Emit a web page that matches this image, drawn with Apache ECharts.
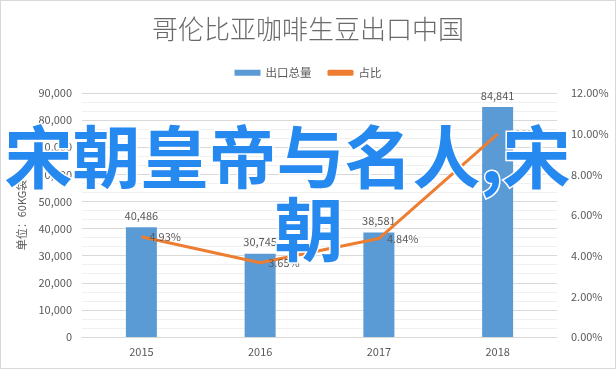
<!DOCTYPE html>
<html><head><meta charset="utf-8">
<script src="https://cdn.jsdelivr.net/npm/echarts@6/dist/echarts.min.js"></script>
<style>html,body{margin:0;padding:0;background:#fff}#c{width:614px;height:367px;border:1px solid #d9d9d9}</style>
</head><body><div id="c"></div>
<script>
const categories = ['2015', '2016', '2017', '2018'];
const exportVolume = [40486, 30745, 38581, 84841];
const sharePct = [4.93, 3.65, 4.84, 9.98];
const titleText = '哥伦比亚咖啡生豆出口中国';
const seriesNames = ['出口总量', '占比'];
const yAxisName = '单位：60KG袋';
const overlayLine1 = '宋朝皇帝与名人,宋';
const overlayLine2 = '朝';

const FONT = '"Noto Sans CJK SC", "Noto Sans", sans-serif';
const GRAY = '#595959';
const chart = echarts.init(document.getElementById('c'), null, {renderer: 'canvas'});
chart.setOption({
  animation: false,
  backgroundColor: '#fff',
  textStyle: {fontFamily: FONT},
  title: {text: titleText, left: 'center', top: 10,
    textStyle: {fontSize: 26, fontWeight: 300, color: '#6a6a6a', fontFamily: FONT}},
  legend: {top: 61, left: 'center', itemWidth: 26, itemHeight: 6, itemGap: 16,
    textStyle: {fontSize: 11.5, color: GRAY, fontFamily: FONT},
    data: [{name: seriesNames[0], icon: 'rect'}, {name: seriesNames[1], icon: 'roundRect'}]},
  grid: {left: 81, right: 58, top: 92, bottom: 31},
  xAxis: {type: 'category', data: categories,
    axisLine: {lineStyle: {color: '#d9d9d9'}}, axisTick: {show: false},
    axisLabel: {color: GRAY, fontSize: 11, margin: 9}},
  yAxis: [
    {type: 'value', min: 0, max: 90000, interval: 10000,
      name: yAxisName, nameLocation: 'middle', nameRotate: 90, nameGap: 52,
      nameTextStyle: {color: GRAY, fontSize: 11},
      axisLine: {show: false}, axisTick: {show: false},
      axisLabel: {color: GRAY, fontSize: 11, margin: 10,
        formatter: v => v.toLocaleString('en-US')},
      splitLine: {lineStyle: {color: '#d9d9d9'}},
      minorTick: {show: false, splitNumber: 3},
      minorSplitLine: {show: true, lineStyle: {color: '#f0f0f0'}}},
    {type: 'value', min: 0, max: 12, interval: 2,
      axisLine: {show: false}, axisTick: {show: false}, splitLine: {show: false},
      axisLabel: {color: GRAY, fontSize: 11, margin: 14,
        formatter: v => v.toFixed(2) + '%'}}
  ],
  series: [
    {name: seriesNames[0], type: 'bar', data: exportVolume, barWidth: 31,
      itemStyle: {color: '#5b9bd5'},
      label: {show: true, position: 'top', distance: 6, color: GRAY, fontSize: 11,
        formatter: p => p.value.toLocaleString('en-US')}},
    {name: seriesNames[1], type: 'line', yAxisIndex: 1, data: sharePct,
      symbol: 'circle', symbolSize: 0, showSymbol: true,
      lineStyle: {color: '#ed7d31', width: 3}, itemStyle: {color: '#ed7d31'},
      label: {show: true, position: 'right', distance: 8, color: GRAY, fontSize: 11,
        formatter: p => p.value.toFixed(2) + '%'}}
  ],
  graphic: [
    {type: 'text', left: 2, top: 121, z: 100,
      style: {text: overlayLine1, fontSize: 68, fontWeight: 'bold', fontFamily: FONT,
        fill: '#2589f0', stroke: '#fff', lineWidth: 3}},
    {type: 'text', left: 272, top: 193, z: 100,
      style: {text: overlayLine2, fontSize: 69, fontWeight: 'bold', fontFamily: FONT,
        fill: '#2589f0', stroke: '#fff', lineWidth: 3}}
  ]
});
</script></body></html>
